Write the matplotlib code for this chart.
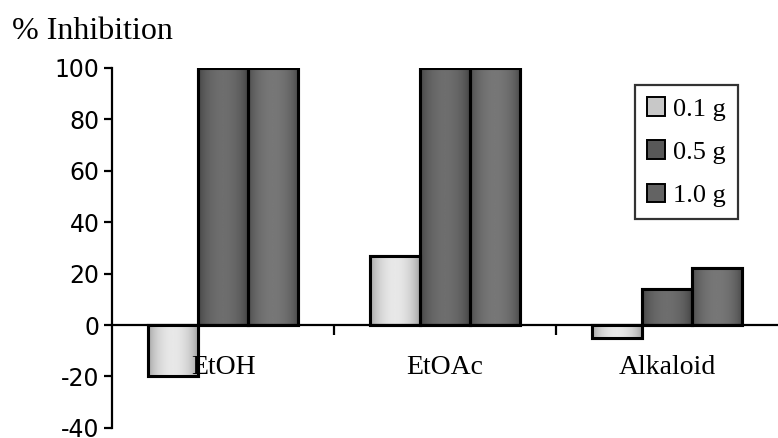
import numpy as np
import matplotlib
matplotlib.use("Agg")
import matplotlib.pyplot as plt
from matplotlib.colors import LinearSegmentedColormap

plt.rcParams["axes.unicode_minus"] = False

# % inhibition per extract for each amount used
extracts = ["EtOH", "EtOAc", "Alkaloid"]
amounts = ["0.1 g", "0.5 g", "1.0 g"]
inhib_01 = [-20, 27, -5]
inhib_05 = [100, 100, 14]
inhib_10 = [100, 100, 22]

# dark edge -> light centre shades for each series
shades = [("#9c9c9c", "#e8e8e8"), ("#404040", "#6e6e6e"), ("#474747", "#777777")]
flat = ["#c8c8c8", "#585858", "#636363"]

fig = plt.figure(figsize=(7.78, 4.38), dpi=100)
ax = fig.add_axes([0.144, 0.023, 0.856, 0.822])

x = np.arange(len(extracts))
w = 0.225
series = [inhib_01, inhib_05, inhib_10]

# cylinder-like shading across each bar
t = np.linspace(0, 1, 64)
ramp = np.sin(np.pi * t) ** 0.6
ramp = ramp[np.newaxis, :]

for i, vals in enumerate(series):
    bars = ax.bar(x + (i - 1) * w, vals, width=w, color=flat[i],
                  edgecolor="black", linewidth=2.2, label=amounts[i], zorder=3)
    cmap = LinearSegmentedColormap.from_list("s%d" % i, shades[i])
    for b in bars:
        x0, y0 = b.get_x(), b.get_y()
        x1, y1 = x0 + b.get_width(), y0 + b.get_height()
        im = ax.imshow(ramp, cmap=cmap, vmin=0, vmax=1, aspect="auto",
                       extent=[x0, x1, min(y0, y1), max(y0, y1)], zorder=3.5)
        im.set_clip_path(b)
        edge = plt.Rectangle((x0, y0), b.get_width(), b.get_height(),
                             facecolor="none", edgecolor="black", linewidth=2.2, zorder=4)
        ax.add_patch(edge)

ax.set_xlim(-0.5, 2.5)
ax.set_ylim(-40, 100)

ax.spines["top"].set_visible(False)
ax.spines["right"].set_visible(False)
ax.spines["left"].set_linewidth(1.6)
ax.spines["left"].set_bounds(-40, 100)
ax.spines["bottom"].set_position(("data", 0))
ax.spines["bottom"].set_linewidth(1.6)
ax.spines["bottom"].set_zorder(5)

ax.set_yticks(np.arange(-40, 101, 20))
ax.tick_params(axis="y", direction="out", length=6, width=1.6, labelsize=17, pad=3)
ax.set_xticks([0.5, 1.5])
ax.set_xticklabels([])
ax.tick_params(axis="x", direction="out", length=7, width=1.6)

for i, name in enumerate(extracts):
    ax.text(i, -16.5, name, ha="center", va="center", fontsize=20,
            family="Liberation Serif", zorder=6)

fig.text(0.015, 0.927, "% Inhibition", fontsize=23, family="Liberation Serif",
         ha="left", va="center")

leg = ax.legend(loc="upper left", bbox_to_anchor=(0.785, 0.952), frameon=True,
                fancybox=False, edgecolor="black", handlelength=0.7, handleheight=0.7,
                handletextpad=0.3, labelspacing=0.75, borderpad=0.45, borderaxespad=0,
                prop={"family": "Liberation Serif", "size": 19})
leg.get_frame().set_linewidth(1.6)
for h in leg.legend_handles:
    h.set_linewidth(1.4)

fig.savefig("out.png", dpi=100)
